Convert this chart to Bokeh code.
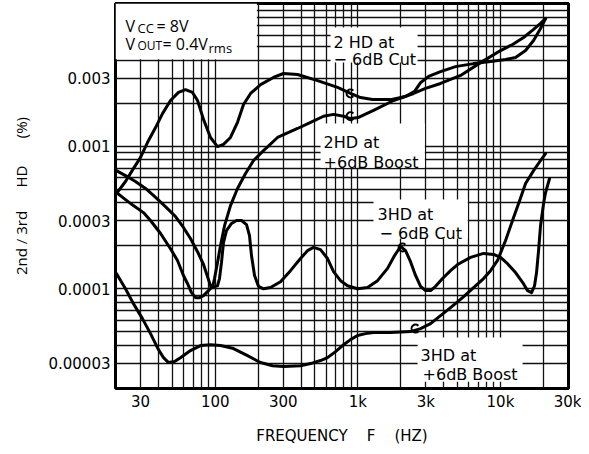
from bokeh.plotting import figure
from bokeh.models import FixedTicker, Label, Range1d, CustomJSTickFormatter
from bokeh.embed import file_html
from bokeh.resources import INLINE
from math import pi

# ---------------- data ----------------
f_2hd_cut = [20.3, 23.5, 26.7, 29.9, 33.5, 38.2, 42.7, 48.6, 55.3, 61.9, 69.3, 75.2, 82.8, 92.7, 103.8,
             114.3, 128, 143.4, 158, 177, 208, 256, 301, 378, 522, 721, 889, 1045, 1268, 1697, 2161,
             2500, 2754, 3133, 3802, 4843, 6480, 8527, 10860, 12760, 15000, 17070, 19100, 20720]
v_2hd_cut = [4.65e-4, 5.65e-4, 6.96e-4, 8.31e-4, 1.06e-3, 1.35e-3, 1.69e-3, 2.09e-3, 2.38e-3, 2.49e-3,
             2.38e-3, 2.09e-3, 1.54e-3, 1.15e-3, 9.93e-4, 1.03e-3, 1.15e-3, 1.47e-3, 1.96e-3, 2.34e-3,
             2.70e-3, 3.03e-3, 3.23e-3, 3.18e-3, 2.88e-3, 2.58e-3, 2.34e-3, 2.19e-3, 2.12e-3, 2.12e-3,
             2.23e-3, 2.42e-3, 2.79e-3, 3.08e-3, 3.33e-3, 3.61e-3, 3.79e-3, 3.92e-3, 4.05e-3, 4.18e-3,
             4.68e-3, 5.50e-3, 6.68e-3, 7.85e-3]

f_2hd_boost = [20.3, 23.5, 27.6, 32.5, 38.2, 44.8, 52.7, 59.9, 67.1, 75.2, 82.8, 88.3, 92.7, 95.8, 98.9,
               103.8, 109, 116.3, 128, 143.4, 163.2, 185.7, 218.2, 273.5, 378, 466.4, 575, 676, 794, 889,
               1012, 1289, 1780, 2459, 2985, 3802, 5253, 7253, 10020, 12160, 14530, 17070, 19100, 20720]
v_2hd_boost = [6.74e-4, 6.22e-4, 5.65e-4, 5.05e-4, 4.37e-4, 3.77e-4, 3.21e-4, 2.69e-4, 2.25e-4, 1.82e-4,
               1.48e-4, 1.22e-4, 1.05e-4, 1.02e-4, 1.18e-4, 1.53e-4, 2.01e-4, 2.77e-4, 3.83e-4, 5.05e-4,
               6.43e-4, 7.93e-4, 9.31e-4, 1.15e-3, 1.33e-3, 1.47e-3, 1.62e-3, 1.67e-3, 1.62e-3, 1.56e-3,
               1.59e-3, 1.78e-3, 2.09e-3, 2.34e-3, 2.54e-3, 2.75e-3, 3.13e-3, 3.85e-3, 4.68e-3, 5.16e-3,
               5.78e-3, 6.58e-3, 7.25e-3, 7.85e-3]

f_3hd_cut = [20.3, 23.5, 26.7, 31.4, 35.2, 41.4, 48.6, 54.4, 59.9, 63.9, 68.2, 72.8, 77.6, 82.8, 88.3,
             94.2, 100.5, 103.8, 107.2, 110.7, 114.3, 120, 130.2, 141.1, 152.9, 165.8, 174, 179.7, 188.7,
             201.3, 218.2, 244.3, 287.1, 337.3, 396.3, 443.7, 489.2, 547.6, 613.2, 676, 756.6, 847.1,
             995.4, 1170, 1375, 1616, 1810, 1994, 2161, 2342, 2539, 2754, 2985, 3236, 3508, 3928, 4469,
             5004, 6175, 7614, 8951, 10020, 11210, 12760, 14290, 15490, 16530, 17340, 17910, 18500,
             19100, 20060, 20720, 22100]
v_3hd_cut = [4.73e-4, 4.22e-4, 3.83e-4, 3.42e-4, 3.01e-4, 2.44e-4, 1.91e-4, 1.58e-4, 1.24e-4, 1.09e-4,
             9.40e-5, 8.67e-5, 8.67e-5, 8.96e-5, 9.55e-5, 1.02e-4, 1.04e-4, 1.05e-4, 1.18e-4, 1.53e-4,
             2.11e-4, 2.56e-4, 2.87e-4, 3.01e-4, 3.01e-4, 2.82e-4, 2.36e-4, 1.71e-4, 1.24e-4, 1.04e-4,
             1.00e-4, 1.02e-4, 1.12e-4, 1.34e-4, 1.63e-4, 1.85e-4, 1.95e-4, 1.88e-4, 1.63e-4, 1.32e-4,
             1.14e-4, 1.05e-4, 1.00e-4, 1.02e-4, 1.14e-4, 1.39e-4, 1.71e-4, 1.98e-4, 1.85e-4, 1.55e-4,
             1.24e-4, 1.04e-4, 9.71e-5, 9.71e-5, 1.04e-4, 1.18e-4, 1.34e-4, 1.48e-4, 1.66e-4, 1.77e-4,
             1.74e-4, 1.66e-4, 1.50e-4, 1.30e-4, 1.11e-4, 9.71e-5, 9.40e-5, 1.05e-4, 1.30e-4, 1.85e-4,
             2.77e-4, 3.96e-4, 4.73e-4, 5.93e-4]

f_3hd_boost = [20.3, 23.5, 26.7, 30.9, 35.2, 40.0, 43.4, 47.1, 51.9, 57.1, 67.1, 78.9, 92.7, 109, 134.4,
               168.5, 208, 252.4, 301, 396.3, 466.4, 547.6, 613.2, 698, 781.6, 889, 995.4, 1133, 1289,
               1697, 2342, 2754, 3236, 3802, 4469, 5425, 6480, 7614, 8527, 9547, 10860, 12360, 13620,
               15000, 17070, 19100, 20720]
v_3hd_boost = [1.28e-4, 1.00e-4, 7.87e-5, 6.18e-5, 4.85e-5, 3.75e-5, 3.29e-5, 3.04e-5, 3.09e-5, 3.29e-5,
               3.69e-5, 4.00e-5, 4.06e-5, 4.00e-5, 3.81e-5, 3.40e-5, 3.04e-5, 2.89e-5, 2.85e-5, 2.89e-5,
               2.99e-5, 3.14e-5, 3.29e-5, 3.63e-5, 4.00e-5, 4.40e-5, 4.70e-5, 4.85e-5, 4.93e-5, 4.93e-5,
               5.01e-5, 5.26e-5, 5.70e-5, 6.49e-5, 7.38e-5, 8.67e-5, 1.02e-4, 1.18e-4, 1.34e-4, 1.58e-4,
               2.18e-4, 3.16e-4, 4.15e-4, 5.47e-4, 6.74e-4, 7.93e-4, 8.87e-4]

# pointer marks ("c") on the curves
marker_f = [889, 889, 2060, 2540]
marker_v = [2.34e-3, 1.62e-3, 1.95e-4, 5.26e-5]

x_ticks = [30, 100, 300, 1000, 3000, 10000, 30000]
x_tick_labels = ["30", "100", "300", "1k", "3k", "10k", "30k"]
y_ticks = [0.00003, 0.0001, 0.0003, 0.001, 0.003]
y_tick_labels = ["0.00003", "0.0001", "0.0003", "0.001", "0.003"]

x_grid = [30, 40, 50, 60, 70, 80, 90,
          100, 200, 300, 400, 500, 600, 700, 800, 900,
          1000, 2000, 3000, 4000, 5000, 6000, 7000, 8000, 9000,
          10000, 20000]
y_grid = [3e-5, 4e-5, 5e-5, 6e-5, 7e-5, 8e-5, 9e-5,
          1e-4, 2e-4, 3e-4, 4e-4, 5e-4, 6e-4, 7e-4, 8e-4, 9e-4,
          1e-3, 2e-3, 3e-3, 4e-3, 5e-3, 6e-3, 7e-3, 8e-3, 9e-3]

# white label boxes (left, right, bottom, top) in data units
box_left = [20, 644, 548, 1289, 2624]
box_right = [196, 2624, 2950, 5900, 14290]
box_bottom = [4.07e-3, 3.86e-3, 7.05e-4, 2.25e-4, 2.23e-5]
box_top = [1.0e-2, 6.79e-3, 1.44e-3, 4.22e-4, 4.55e-5]

FONT = "DejaVu Sans"
CFONT = "Open Sans"
YFONT = "Open Sans"

# annotation texts: (text, freq, value, font size, font)
annotations = [
    ("2 HD at", 676, 5.33e-3, 16, FONT),
    ("\u2212 6dB Cut", 676, 4.05e-3, 16, FONT),
    ("2HD at", 575, 1.06e-3, 16, FONT),
    ("+6dB Boost", 575, 7.67e-4, 16, FONT),
    ("3HD at", 1375, 3.31e-4, 16, FONT),
    ("\u2212 6dB Cut", 1420, 2.44e-4, 16, FONT),
    ("3HD at", 2754, 3.40e-5, 16, FONT),
    ("+6dB Boost", 2844, 2.50e-5, 16, FONT),
    ("V", 23.5, 7.01e-3, 16, CFONT),
    ("CC", 28.5, 6.68e-3, 13, CFONT),
    ("=\u00a08V", 38.8, 7.01e-3, 16, CFONT),
    ("V", 23.5, 5.24e-3, 16, CFONT),
    ("OUT", 28.5, 5.08e-3, 12, CFONT),
    ("=\u00a00.4V", 42.7, 5.24e-3, 16, CFONT),
    ("rms", 89.8, 4.91e-3, 13, CFONT),
]

p = figure(x_axis_type="log", y_axis_type="log",
           x_range=Range1d(20, 30000), y_range=Range1d(2e-5, 1e-2),
           frame_width=453, frame_height=385,
           min_border_left=115, min_border_right=13, min_border_top=3, min_border_bottom=58,
           output_backend="svg", toolbar_location=None)

p.background_fill_color = "white"
p.border_fill_color = "white"
p.outline_line_color = "black"
p.outline_line_width = 3

# grid
p.xgrid.ticker = FixedTicker(ticks=x_grid)
p.ygrid.ticker = FixedTicker(ticks=y_grid)
for g in (p.xgrid, p.ygrid):
    g.grid_line_color = "#111111"
    g.grid_line_width = 1.3
    g.grid_line_alpha = 1.0

# axes
fmt_code = """
let best = -1;
for (let i = 0; i < tvals.length; i++) {
  if (Math.abs(Math.log10(tvals[i]) - Math.log10(tick)) < 1e-6) { best = i; }
}
return best >= 0 ? tlabels[best] : "";
"""
p.xaxis.ticker = FixedTicker(ticks=x_ticks)
p.xaxis.formatter = CustomJSTickFormatter(args=dict(tvals=x_ticks, tlabels=x_tick_labels), code=fmt_code)
p.yaxis.ticker = FixedTicker(ticks=y_ticks)
p.yaxis.formatter = CustomJSTickFormatter(args=dict(tvals=y_ticks, tlabels=y_tick_labels), code=fmt_code)

for ax in (p.xaxis, p.yaxis):
    ax.axis_line_color = None
    ax.major_tick_line_color = None
    ax.minor_tick_line_color = None
    ax.major_tick_out = 0
    ax.major_tick_in = 0
    ax.major_label_text_font = FONT
    ax.major_label_text_font_size = "15px"
    ax.major_label_text_color = "black"
    ax.axis_label_text_font_style = "normal"
    ax.axis_label_text_color = "black"

p.xaxis.major_label_standoff = 4
p.yaxis.major_label_standoff = 5
nb = "\u00a0"
p.xaxis.axis_label = "FREQUENCY" + nb * 4 + "F" + nb * 4 + "(HZ)"
p.xaxis.axis_label_text_font = FONT
p.xaxis.axis_label_text_font_size = "15px"
p.xaxis.axis_label_standoff = 13
p.yaxis.axis_label = "2nd" + nb + "/" + nb + "3rd" + nb * 6 + "HD" + nb * 7 + "(%)"
p.yaxis.axis_label_text_font = YFONT
p.yaxis.axis_label_text_font_size = "15px"
p.yaxis.axis_label_standoff = 14

# white boxes behind the labels (hide grid)
p.quad(left=box_left, right=box_right, bottom=box_bottom, top=box_top,
       fill_color="white", line_color=None)

# curves
for fx, vy in ((f_2hd_cut, v_2hd_cut), (f_2hd_boost, v_2hd_boost),
               (f_3hd_cut, v_3hd_cut), (f_3hd_boost, v_3hd_boost)):
    p.line(fx, vy, line_color="black", line_width=3, line_join="round", line_cap="round")

# pointer marks
p.arc(x=marker_f, y=marker_v, radius=4, radius_units="screen",
      start_angle=pi / 4, end_angle=7 * pi / 4, line_color="black", line_width=2)

for txt, fx, vy, size, font in annotations:
    p.add_layout(Label(x=fx, y=vy, text=txt, text_font=font, text_font_size=f"{size}px",
                       text_color="black", text_baseline="alphabetic", text_align="left"))

open("out.html", "w").write(file_html(p, INLINE))
